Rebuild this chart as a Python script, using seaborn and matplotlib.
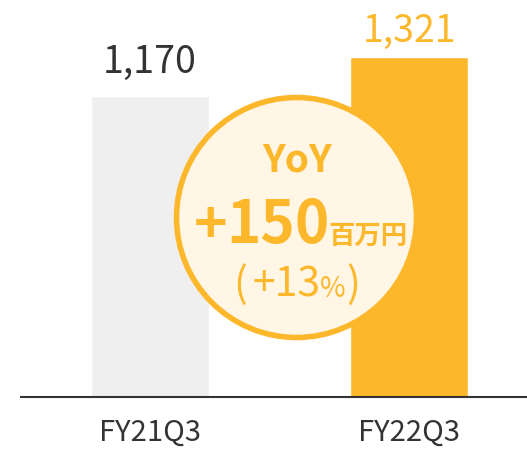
import matplotlib
matplotlib.use("Agg")
import matplotlib.pyplot as plt
import seaborn as sns
import pandas as pd
from matplotlib.patches import Ellipse

categories = ["FY21Q3", "FY22Q3"]
values = [1170, 1321]
value_labels = ["1,170", "1,321"]
bar_colors = ["#efefef", "#fdb72b"]
label_colors = ["#333333", "#fdb72b"]
yoy_title = "YoY"
yoy_sign = "+"
yoy_value = "150"
yoy_unit = "百万円"
yoy_pct = "13"

W, H = 527, 452
sns.set_theme(style="white")
plt.rcParams["font.family"] = ["Noto Sans CJK JP", "DejaVu Sans"]

fig = plt.figure(figsize=(W / 100, H / 100), dpi=100)
ax = fig.add_axes([21 / W, (H - 398) / H, (W - 21) / W, 398 / H])

df = pd.DataFrame({"cat": categories, "val": values})
sns.barplot(data=df, x="cat", y="val", hue="cat", palette=bar_colors,
            width=0.455, saturation=1, legend=False, ax=ax)

ax.set_xlim(-0.497, 1.453)
ax.set_ylim(0, 1546)
ax.set_xlabel("")
ax.set_ylabel("")
ax.set_yticks([])
for s in ["top", "left", "right"]:
    ax.spines[s].set_visible(False)
ax.spines["bottom"].set_color("#333333")
ax.spines["bottom"].set_linewidth(1.5)
ax.tick_params(axis="x", length=0, pad=14, labelsize=21, labelcolor="#333333")

offsets = [24, 16]
for i, (v, lab) in enumerate(zip(values, value_labels)):
    ax.annotate(lab, (i, v), xytext=(0, offsets[i] * 0.72), textcoords="offset points",
                ha="center", va="baseline", fontsize=27, color=label_colors[i])

def fx(x):
    return x / W

def fy(y):
    return 1 - y / H

orange = "#fdb72b"
circ = Ellipse((fx(296.5), fy(218.5)), 240 / W, 240 / H, transform=fig.transFigure,
               facecolor="#fff6e5", edgecolor=orange, linewidth=4, zorder=5)
fig.add_artist(circ)

fig.text(fx(297), fy(172), yoy_title, ha="center", va="baseline", fontsize=28,
         fontweight="bold", color=orange, zorder=6)
fig.text(fx(211), fy(243), yoy_sign, ha="center", va="baseline", fontsize=41,
         fontweight="bold", color=orange, zorder=6)
fig.text(fx(330), fy(243), yoy_value, ha="right", va="baseline", fontsize=42,
         fontweight="bold", color=orange, zorder=6)
fig.text(fx(328), fy(244), yoy_unit, ha="left", va="baseline", fontsize=19,
         fontweight="bold", color=orange, zorder=6)
fig.text(fx(240), fy(297), "(", ha="center", va="baseline", fontsize=29.5,
         color=orange, zorder=6)
fig.text(fx(321), fy(297), "+" + yoy_pct, ha="right", va="baseline", fontsize=29.5,
         color=orange, zorder=6)
fig.text(fx(320), fy(297), "%", ha="left", va="baseline", fontsize=20,
         color=orange, zorder=6)
fig.text(fx(346), fy(297), ")", ha="left", va="baseline", fontsize=29.5,
         color=orange, zorder=6)

fig.savefig("out.png", dpi=100)
